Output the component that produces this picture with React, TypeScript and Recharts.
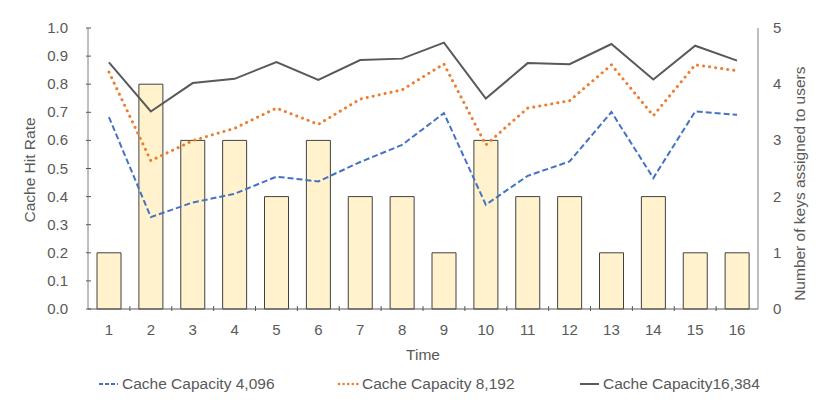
import React from 'react';
import {
    ComposedChart,
    Bar,
    Line,
    XAxis,
    YAxis,
    Legend,
} from 'recharts';

const times = ['1', '2', '3', '4', '5', '6', '7', '8', '9', '10', '11', '12', '13', '14', '15', '16'];
const cap4096 = [0.683, 0.327, 0.379, 0.41, 0.471, 0.454, 0.523, 0.584, 0.697, 0.371, 0.474, 0.525, 0.701, 0.466, 0.703, 0.691];
const cap8192 = [0.843, 0.528, 0.599, 0.643, 0.715, 0.657, 0.747, 0.78, 0.872, 0.584, 0.715, 0.741, 0.869, 0.688, 0.869, 0.848];
const cap16384 = [0.878, 0.703, 0.804, 0.819, 0.879, 0.815, 0.886, 0.891, 0.948, 0.749, 0.875, 0.871, 0.943, 0.817, 0.937, 0.884];
const keysAssigned = [1, 4, 3, 3, 2, 3, 2, 2, 1, 3, 2, 2, 1, 2, 1, 1];
const leftTicks = [0, 0.1, 0.2, 0.3, 0.4, 0.5, 0.6, 0.7, 0.8, 0.9, 1.0];
const rightTicks = [0, 1, 2, 3, 4, 5];

const data = times.map((t, i) => ({
    time: t,
    c4096: cap4096[i],
    c8192: cap8192[i],
    c16384: cap16384[i],
    keys: keysAssigned[i],
}));

const FONT = '"Liberation Sans", Arial, sans-serif';
const TEXT = '#595959';
const TICK_SIZE = 15;
const TITLE_SIZE = 15.5;

// x ticks: label under the axis, small upward mark on band boundaries
const TimeTick = ({ x, y, payload, index }: any) => (
    <g>
        {index < times.length - 1 && (
            <line x1={x + payload.offset} x2={x + payload.offset} y1={y} y2={y - 5} stroke="#595959" />
        )}
        <text x={x} y={y + 24} textAnchor="middle" fill={TEXT} fontSize={TICK_SIZE} fontFamily={FONT}>
            {payload.value}
        </text>
    </g>
);

const LeftTick = ({ x, y, payload }: any) => (
    <g>
        <line x1={x} x2={x + 5} y1={y} y2={y} stroke="#595959" />
        <text x={x - 18} y={y + 5} textAnchor="end" fill={TEXT} fontSize={TICK_SIZE} fontFamily={FONT}>
            {Number(payload.value).toFixed(1)}
        </text>
    </g>
);

const RightTick = ({ x, y, payload }: any) => (
    <text x={x + 13} y={y + 5} textAnchor="start" fill={TEXT} fontSize={TICK_SIZE} fontFamily={FONT}>
        {payload.value}
    </text>
);

const legendItems = [
    { label: 'Cache Capacity 4,096', color: '#4472C4', dash: '4 2', cap: 'butt', width: 2, left: 97 },
    { label: 'Cache Capacity 8,192', color: '#ED7D31', dash: '0.1 4.5', cap: 'round', width: 2.5, left: 337 },
    { label: 'Cache Capacity16,384', color: '#595959', dash: undefined, cap: 'butt', width: 2, left: 578 },
];

const CustomLegend = () => (
    <div style={{ position: 'relative', width: 830, height: 30, fontFamily: FONT, fontSize: TITLE_SIZE, color: TEXT }}>
        {legendItems.map((it) => (
            <div key={it.label} style={{ position: 'absolute', left: it.left, top: 2, display: 'flex', alignItems: 'center' }}>
                <svg width={22} height={10}>
                    <line
                        x1={2}
                        x2={21}
                        y1={5}
                        y2={5}
                        stroke={it.color}
                        strokeWidth={it.width}
                        strokeDasharray={it.dash}
                        strokeLinecap={it.cap as any}
                    />
                </svg>
                <span style={{ marginLeft: 3 }}>{it.label}</span>
            </div>
        ))}
    </div>
);

export default function App() {
    return (
        <div style={{ position: 'absolute', left: 0, top: 0, width: 830, height: 408, background: '#fff' }}>
            <ComposedChart width={830} height={408} data={data} margin={{ top: 28, right: 0, left: 0, bottom: 0 }}>
                <XAxis
                    dataKey="time"
                    xAxisId="main"
                    height={64}
                    tickSize={0}
                    tickLine={false}
                    axisLine={{ stroke: '#595959' }}
                    tick={<TimeTick />}
                    interval={0}
                    label={{ value: 'Time', position: 'insideBottom', offset: 13, fill: TEXT, fontSize: TITLE_SIZE, fontFamily: FONT }}
                />
                <XAxis dataKey="time" xAxisId="top" orientation="top" height={0} tick={false} tickLine={false} axisLine={{ stroke: '#404040' }} />
                <YAxis
                    yAxisId="left"
                    width={88}
                    domain={[0, 1]}
                    ticks={leftTicks}
                    tickSize={0}
                    tickLine={false}
                    axisLine={{ stroke: '#808080' }}
                    tick={<LeftTick />}
                    interval={0}
                    label={{ value: 'Cache Hit Rate', angle: -90, position: 'insideLeft', offset: 29, dy: 54, fill: TEXT, fontSize: TITLE_SIZE, fontFamily: FONT }}
                />
                <YAxis
                    yAxisId="right"
                    orientation="right"
                    width={72}
                    domain={[0, 5]}
                    ticks={rightTicks}
                    tickSize={0}
                    tickLine={false}
                    axisLine={{ stroke: '#808080' }}
                    tick={<RightTick />}
                    interval={0}
                    label={{ value: 'Number of keys assigned to users', angle: -90, position: 'insideRight', offset: 31, dy: -102, fill: TEXT, fontSize: TITLE_SIZE, fontFamily: FONT }}
                />
                <Legend verticalAlign="bottom" height={35} content={<CustomLegend />} />
                <Bar
                    xAxisId="main"
                    yAxisId="right"
                    dataKey="keys"
                    fill="#FFF2CC"
                    stroke="#404040"
                    strokeWidth={1}
                    barSize={24}
                    isAnimationActive={false}
                    legendType="none"
                />
                <Line
                    xAxisId="main"
                    yAxisId="left"
                    dataKey="c4096"
                    stroke="#4472C4"
                    strokeWidth={2}
                    strokeDasharray="6 3"
                    dot={false}
                    type="linear"
                    isAnimationActive={false}
                />
                <Line
                    xAxisId="main"
                    yAxisId="left"
                    dataKey="c8192"
                    stroke="#ED7D31"
                    strokeWidth={3}
                    strokeDasharray="0.1 6"
                    strokeLinecap="round"
                    dot={false}
                    type="linear"
                    isAnimationActive={false}
                />
                <Line
                    xAxisId="main"
                    yAxisId="left"
                    dataKey="c16384"
                    stroke="#595959"
                    strokeWidth={2}
                    dot={false}
                    type="linear"
                    isAnimationActive={false}
                />
            </ComposedChart>
        </div>
    );
}
